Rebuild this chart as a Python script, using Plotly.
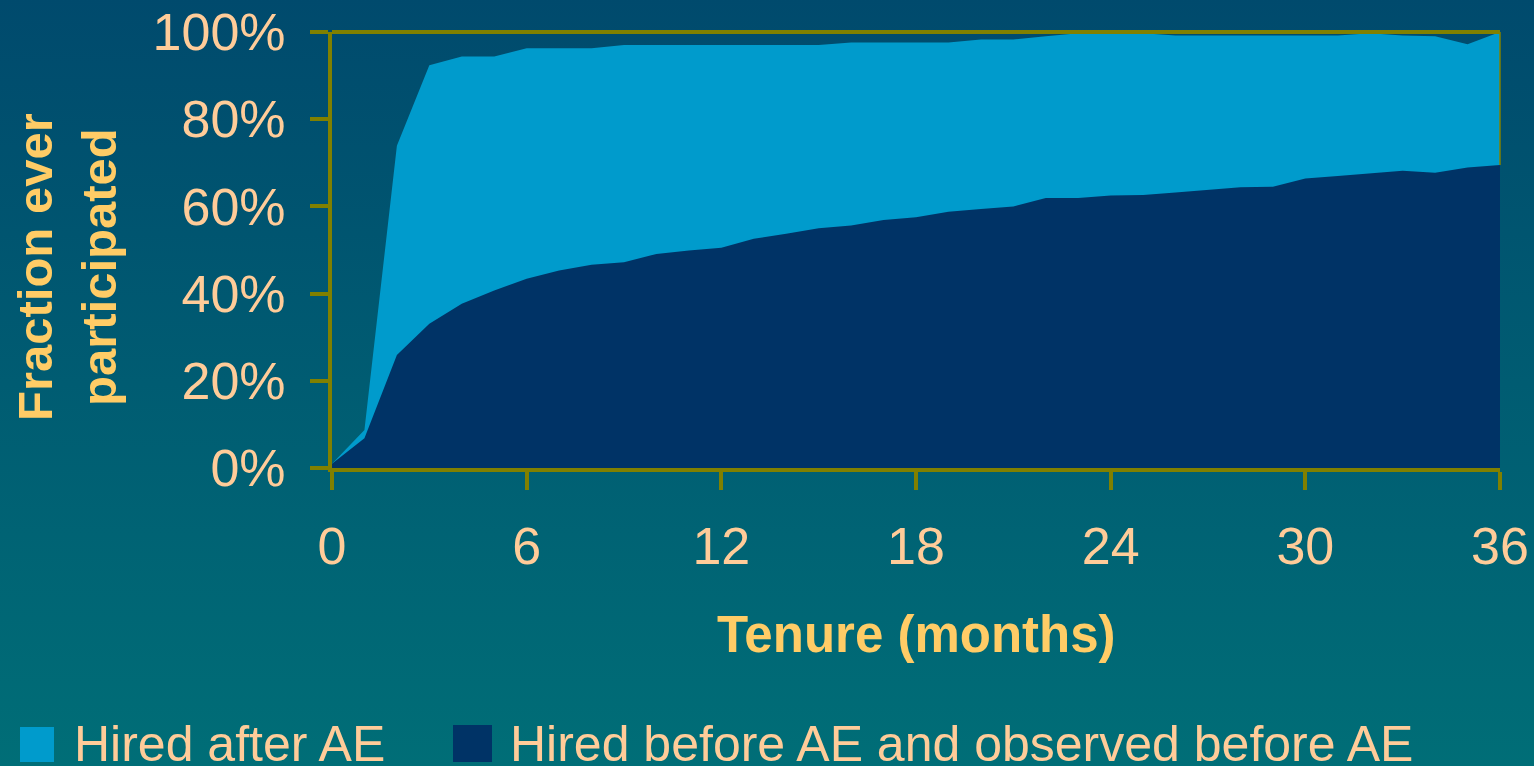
"""Fraction ever participated by tenure, hired before/after AE."""

import base64
import plotly.graph_objects as go

# Dane
months = list(range(37))
hired_after = [
    1.0, 8.7, 73.9, 92.4, 94.4, 94.4, 96.3, 96.3, 96.3, 97.0,
    97.0, 97.0, 97.0, 97.0, 97.0, 97.0, 97.6, 97.6, 97.6, 97.6,
    98.3, 98.3, 99.0, 99.7, 99.7, 99.7, 99.2, 99.2, 99.2, 99.2,
    99.2, 99.2, 99.7, 99.2, 99.0, 97.2, 100.0,
]
hired_before = [
    1.0, 6.8, 25.9, 33.1, 37.7, 40.7, 43.4, 45.3, 46.6, 47.2,
    49.1, 49.9, 50.5, 52.6, 53.7, 55.0, 55.6, 56.9, 57.5, 58.8,
    59.4, 60.0, 61.9, 61.9, 62.5, 62.6, 63.2, 63.8, 64.4, 64.5,
    66.4, 67.0, 67.6, 68.2, 67.7, 68.9, 69.5,
]
x_ticks = [0, 6, 12, 18, 24, 30, 36]
y_ticks = [0, 20, 40, 60, 80, 100]
y_tick_labels = [f"{v}%" for v in y_ticks]
series_names = ["Hired after AE", "Hired before AE and observed before AE"]

# Style
LIGHT = "#009BCC"
DARK = "#003366"
OLIVE = "#808000"
TICK_TXT = "#FFCC99"
TITLE_TXT = "#FFCC66"
FONT = "Liberation Sans, Arial, sans-serif"

W, H = 1534, 766
L, R, T, B = 332, 34, 32, 298
PW, PH = W - L - R, H - T - B


def px_x(px):
    return (px - L) / PW


def px_y(py):
    return (H - B - py) / PH


fig = go.Figure()
fig.add_trace(go.Scatter(
    x=months, y=hired_after, mode="lines", fill="tozeroy",
    fillcolor=LIGHT, line=dict(width=0, color=LIGHT),
    name=series_names[0], showlegend=False, hoverinfo="skip",
))
fig.add_trace(go.Scatter(
    x=months, y=hired_before, mode="lines", fill="tozeroy",
    fillcolor=DARK, line=dict(width=0, color=DARK),
    name=series_names[1], showlegend=False, hoverinfo="skip",
))

# Tło z gradientem
svg = (
    '<svg xmlns="http://www.w3.org/2000/svg" width="10" height="100" '
    'preserveAspectRatio="none"><defs><linearGradient id="g" x1="0" y1="0" '
    'x2="0" y2="1"><stop offset="0" stop-color="#004A6D"/>'
    '<stop offset="1" stop-color="#006E77"/></linearGradient></defs>'
    '<rect width="10" height="100" fill="url(#g)"/></svg>'
)
bg_src = "data:image/svg+xml;base64," + base64.b64encode(svg.encode()).decode()
fig.add_layout_image(
    source=bg_src, xref="paper", yref="paper",
    x=px_x(-2), y=px_y(-2), sizex=(W + 4) / PW, sizey=(H + 4) / PH,
    xanchor="left", yanchor="top", sizing="stretch", layer="below",
)

# Górna krawędź (gruba) i prawa cienka linia
fig.add_shape(type="line", x0=0, x1=1, y0=1, y1=1, xref="paper", yref="paper",
              line=dict(color=OLIVE, width=4), layer="above")
fig.add_shape(type="line", x0=1, x1=1, y0=hired_before[-1] / 100, y1=1,
              xref="paper", yref="paper", line=dict(color=OLIVE, width=1.5),
              layer="above")

# Legenda ręczna
legend_boxes = [(20, 54, 727, 762, 72), (453, 492, 725, 762, 508)]
for (x0, x1, y0, y1, tx), name, col in zip(legend_boxes, series_names, [LIGHT, DARK]):
    fig.add_shape(type="rect", xref="paper", yref="paper",
                  x0=px_x(x0), x1=px_x(x1), y0=px_y(y1), y1=px_y(y0),
                  fillcolor=col, line=dict(width=0))
    fig.add_annotation(text=name, xref="paper", yref="paper",
                       x=px_x(tx), y=px_y(744), xanchor="left", yanchor="middle",
                       showarrow=False, font=dict(family=FONT, size=50, color=TICK_TXT))

# Tytuły osi
fig.add_annotation(text="<b>Fraction ever<br>participated</b>", textangle=-90,
                   xref="paper", yref="paper", x=px_x(67), y=px_y(267),
                   xanchor="center", yanchor="middle", showarrow=False,
                   font=dict(family=FONT, size=49, color=TITLE_TXT))
fig.add_annotation(text="<b>Tenure (months)</b>", xref="paper", yref="paper",
                   x=0.5, y=px_y(634), xanchor="center", yanchor="middle",
                   showarrow=False, font=dict(family=FONT, size=51, color=TITLE_TXT))

axis_common = dict(
    showline=True, linecolor=OLIVE, linewidth=4,
    ticks="outside", ticklen=18, tickwidth=4, tickcolor=OLIVE,
    showgrid=False, zeroline=False, automargin=False,
    tickfont=dict(family=FONT, size=52, color=TICK_TXT),
)
fig.update_xaxes(range=[0, 36], tickvals=x_ticks, ticklabelstandoff=12, **axis_common)
fig.update_yaxes(range=[0, 100], tickvals=y_ticks, ticktext=y_tick_labels,
                 ticklabelstandoff=14, **axis_common)

fig.update_layout(
    width=W, height=H,
    margin=dict(l=L, r=R, t=T, b=B, pad=0),
    paper_bgcolor="#005C72",
    plot_bgcolor="rgba(0,0,0,0)",
    showlegend=False,
)

fig.write_html(
    "out.html",
    config={"displayModeBar": False},
    post_script="document.body.style.margin='0';document.body.style.overflow='hidden';",
)
